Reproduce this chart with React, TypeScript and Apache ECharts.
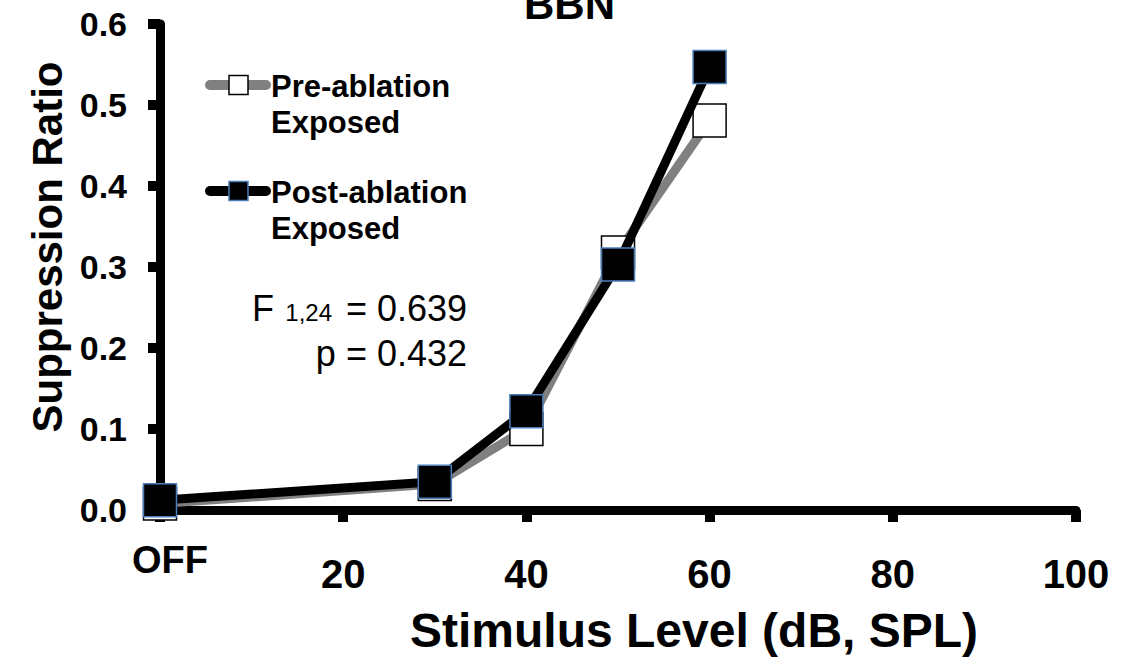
import React, { useEffect, useRef } from "react";
import * as echarts from "echarts";

const xLevels = [0, 30, 40, 50, 60];
const preAblation = [0.008, 0.032, 0.1, 0.318, 0.481];
const postAblation = [0.012, 0.035, 0.122, 0.303, 0.547];
const yTicks = [0, 0.1, 0.2, 0.3, 0.4, 0.5, 0.6];
const xTickLabels = ["OFF", "20", "40", "60", "80", "100"];

const FONT = "'Liberation Sans', Arial, Helvetica, sans-serif";

export default function App() {
  const ref = useRef<HTMLDivElement>(null);

  useEffect(() => {
    if (!ref.current) return;
    const chart = echarts.init(ref.current, undefined, { renderer: "svg" });
    const pairs = (ys: number[]) => xLevels.map((x, i) => [x, ys[i]]);
    const option = {
      animation: false,
      backgroundColor: "#ffffff",
      title: {
        text: "BBN",
        left: 524,
        top: -17,
        padding: 0,
        textStyle: { fontFamily: FONT, fontSize: 42, fontWeight: "bold", color: "#000" },
      },
      grid: { left: 160, right: 46, top: 24, bottom: 148, containLabel: false },
      xAxis: {
        type: "value",
        min: 0,
        max: 100,
        interval: 20,
        name: "Stimulus Level (dB, SPL)",
        nameLocation: "middle",
        nameGap: 96,
        nameTextStyle: {
          fontFamily: FONT,
          fontSize: 48,
          fontWeight: "bold",
          color: "#000",
          padding: [0, 0, 0, 152],
        },
        axisLine: { show: true, onZero: false, lineStyle: { color: "#000", width: 9 } },
        axisTick: { show: true, inside: false, length: 12, lineStyle: { color: "#000", width: 10 } },
        splitLine: { show: false },
        axisLabel: {
          margin: 44,
          fontFamily: FONT,
          fontSize: 40,
          fontWeight: "bold",
          color: "#000",
          formatter: (v: number) => {
            const idx = Math.round(v / 20);
            return idx === 0 ? "" : xTickLabels[idx];
          },
        },
      },
      yAxis: {
        type: "value",
        min: 0,
        max: 0.6,
        interval: 0.1,
        name: "Suppression Ratio",
        nameLocation: "middle",
        nameGap: 91,
        nameTextStyle: {
          fontFamily: FONT,
          fontSize: 42,
          fontWeight: "bold",
          color: "#000",
          padding: [0, 0, 0, 40],
        },
        axisLine: { show: true, onZero: false, lineStyle: { color: "#000", width: 9 } },
        axisTick: { show: true, inside: false, length: 12, lineStyle: { color: "#000", width: 10 } },
        splitLine: { show: false },
        axisLabel: {
          margin: 33,
          fontFamily: FONT,
          fontSize: 34,
          fontWeight: "bold",
          color: "#000",
          formatter: (v: number) => {
            const t = yTicks.find((y) => Math.abs(y - v) < 1e-6);
            return (t === undefined ? v : t).toFixed(1);
          },
        },
      },
      graphic: [
        {
          type: "text",
          left: 132,
          top: 560 - 19,
          style: {
            text: xTickLabels[0],
            font: `bold 38px ${FONT}`,
            fill: "#000",
          },
        },
        // legend: pre-ablation
        {
          type: "line",
          shape: { x1: 210, y1: 85, x2: 266, y2: 85 },
          style: { stroke: "#808080", lineWidth: 10, lineCap: "round" },
          z: 10,
        },
        {
          type: "rect",
          shape: { x: 229, y: 75.5, width: 19, height: 19 },
          style: { fill: "#ffffff", stroke: "#000", lineWidth: 1.5 },
          z: 11,
        },
        {
          type: "text",
          x: 271,
          y: 68,
          style: {
            text: "Pre-ablation\nExposed",
            font: `bold 31px ${FONT}`,
            lineHeight: 36,
            fill: "#000",
            verticalAlign: "top",
          },
          z: 10,
        },
        // legend: post-ablation
        {
          type: "line",
          shape: { x1: 210, y1: 191, x2: 266, y2: 191 },
          style: { stroke: "#000", lineWidth: 10, lineCap: "round" },
          z: 10,
        },
        {
          type: "rect",
          shape: { x: 229, y: 181.5, width: 19, height: 19 },
          style: { fill: "#000", stroke: "#4a7ebb", lineWidth: 1.5 },
          z: 11,
        },
        {
          type: "text",
          x: 271,
          y: 174,
          style: {
            text: "Post-ablation\nExposed",
            font: `bold 31px ${FONT}`,
            lineHeight: 36,
            fill: "#000",
            verticalAlign: "top",
          },
          z: 10,
        },
        // stats
        {
          type: "text",
          x: 252,
          y: 308.5,
          style: { text: "F", font: `36px ${FONT}`, fill: "#000", verticalAlign: "middle", align: "left" },
        },
        {
          type: "text",
          x: 332,
          y: 312.7,
          style: { text: "1,24", font: `24px ${FONT}`, fill: "#000", verticalAlign: "middle", align: "right" },
        },
        {
          type: "text",
          x: 467,
          y: 308.5,
          style: { text: "= 0.639", font: `36px ${FONT}`, fill: "#000", verticalAlign: "middle", align: "right" },
        },
        {
          type: "text",
          x: 467,
          y: 353.5,
          style: { text: "p = 0.432", font: `36px ${FONT}`, fill: "#000", verticalAlign: "middle", align: "right" },
        },
      ],
      series: [
        {
          name: "Pre-ablation Exposed",
          type: "line",
          data: pairs(preAblation),
          symbol: "rect",
          symbolSize: 33,
          lineStyle: { color: "#808080", width: 9 },
          itemStyle: { color: "#ffffff", borderColor: "#000", borderWidth: 1.5 },
          emphasis: { disabled: true },
          z: 2,
        },
        {
          name: "Post-ablation Exposed",
          type: "line",
          data: pairs(postAblation),
          symbol: "rect",
          symbolSize: 33,
          lineStyle: { color: "#000", width: 9 },
          itemStyle: { color: "#000", borderColor: "#4a7ebb", borderWidth: 1.5 },
          emphasis: { disabled: true },
          z: 3,
        },
      ],
    };
    chart.setOption(option as any);
    return () => chart.dispose();
  }, []);

  return (
    <div
      ref={ref}
      style={{ position: "fixed", left: 0, top: 0, width: 1122, height: 659, background: "#fff" }}
    />
  );
}
